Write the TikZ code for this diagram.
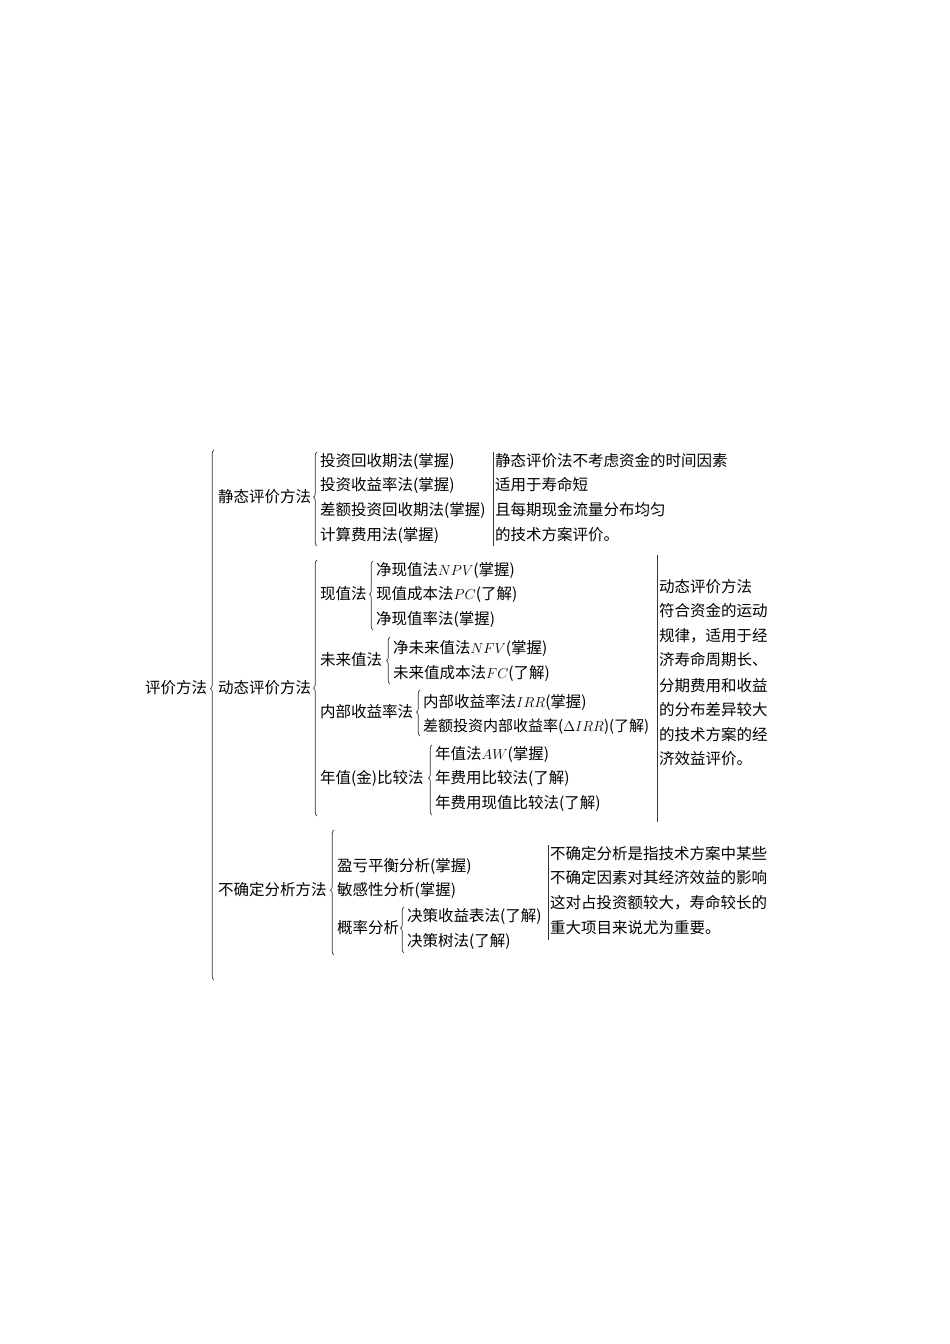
\documentclass[tikz,border=0pt]{standalone}
\usepackage{fontspec}
\setmainfont{Noto Sans CJK SC}
\usetikzlibrary{decorations.pathreplacing}

\begin{document}
\begin{tikzpicture}[x=1pt,y=-1pt,
    txt/.style={anchor=west,inner sep=0pt,text height=13pt,text depth=2pt,font=\fontsize{15.5}{18}\selectfont},
    brc/.style={decorate,decoration={brace,amplitude=3.5pt,aspect=#1},line width=0.7pt,black!80},
    brc/.default=0.5,
    rule/.style={line width=0.8pt,black!80}]
\useasboundingbox (0,0) rectangle (950,1344);

% root
\node[txt](root) at (145,688){评价方法};
\coordinate (b0a) at (214,980);
\coordinate (b0b) at (214,450);
\draw[brc=0.55](b0a)--(b0b);

% static
\node[txt](st) at (218,497){静态评价方法};
\coordinate (b1a) at (317,546);
\coordinate (b1b) at (317,452);
\draw[brc=0.52](b1a)--(b1b);
\node[txt](st1) at (320,461){投资回收期法(掌握)};
\node[txt](st2) at (320,485){投资收益率法(掌握)};
\node[txt](st3) at (320,510){差额投资回收期法(掌握)};
\node[txt](st4) at (320,535){计算费用法(掌握)};
\coordinate (l1a) at (493,452);
\coordinate (l1b) at (493,546);
\draw[rule](l1a)--(l1b);
\node[txt](sn1) at (495,461){静态评价法不考虑资金的时间因素};
\node[txt](sn2) at (495,485){适用于寿命短};
\node[txt](sn3) at (495,510){且每期现金流量分布均匀};
\node[txt](sn4) at (495,535){的技术方案评价。};

% dynamic
\node[txt](dy) at (218,688){动态评价方法};
\coordinate (b2a) at (317,816);
\coordinate (b2b) at (317,560);
\draw[brc=0.5](b2a)--(b2b);
\node[txt](pv) at (320,594){现值法};
\coordinate (b3a) at (373,630);
\coordinate (b3b) at (373,561);
\draw[brc=0.52](b3a)--(b3b);
\node[txt](pv1) at (376,570){净现值法$NPV$(掌握)};
\node[txt](pv2) at (376,594){现值成本法$PC$(了解)};
\node[txt](pv3) at (376,619){净现值率法(掌握)};
\node[txt](fv) at (320,660){未来值法};
\coordinate (b4a) at (390,684);
\coordinate (b4b) at (390,637);
\draw[brc=0.5](b4a)--(b4b);
\node[txt](fv1) at (393,648){净未来值法$NFV$(掌握)};
\node[txt](fv2) at (393,673){未来值成本法$FC$(了解)};
\node[txt](ir) at (320,712){内部收益率法};
\coordinate (b5a) at (420,736);
\coordinate (b5b) at (420,690);
\draw[brc=0.52](b5a)--(b5b);
\node[txt](ir1) at (423,702){内部收益率法$IRR$(掌握)};
\node[txt,font=\fontsize{15}{18}\selectfont](ir2) at (423,726){差额投资内部收益率($\Delta IRR$)(了解)};
\node[txt](aw) at (320,778){年值(金)比较法};
\coordinate (b6a) at (432,815);
\coordinate (b6b) at (432,745);
\draw[brc=0.53](b6a)--(b6b);
\node[txt](aw1) at (435,754){年值法$AW$(掌握)};
\node[txt](aw2) at (435,778){年费用比较法(了解)};
\node[txt](aw3) at (435,803){年费用现值比较法(了解)};
\coordinate (l2a) at (657,555);
\coordinate (l2b) at (657,822);
\draw[rule](l2a)--(l2b);
\node[txt](dn1) at (659,587){动态评价方法};
\node[txt](dn2) at (659,611){符合资金的运动};
\node[txt](dn3) at (659,636){规律，适用于经};
\node[txt](dn4) at (659,660){济寿命周期长、};
\node[txt](dn5) at (659,686){分期费用和收益};
\node[txt](dn6) at (659,710){的分布差异较大};
\node[txt](dn7) at (659,735){的技术方案的经};
\node[txt](dn8) at (659,759){济效益评价。};

% uncertainty
\node[txt](un) at (218,890){不确定分析方法};
\coordinate (b7a) at (334,955);
\coordinate (b7b) at (334,830);
\draw[brc=0.52](b7a)--(b7b);
\node[txt](un1) at (337,866){盈亏平衡分析(掌握)};
\node[txt](un2) at (337,890){敏感性分析(掌握)};
\node[txt](pr) at (337,928){概率分析};
\coordinate (b8a) at (404,953);
\coordinate (b8b) at (404,907);
\draw[brc=0.54](b8a)--(b8b);
\node[txt](pr1) at (407,916){决策收益表法(了解)};
\node[txt](pr2) at (407,941){决策树法(了解)};
\coordinate (l3a) at (548,845);
\coordinate (l3b) at (548,940);
\draw[rule](l3a)--(l3b);
\node[txt](un3) at (550,854){不确定分析是指技术方案中某些};
\node[txt](un4) at (550,878){不确定因素对其经济效益的影响};
\node[txt](un5) at (550,903){这对占投资额较大，寿命较长的};
\node[txt](un6) at (550,928){重大项目来说尤为重要。};
\end{tikzpicture}
\end{document}
